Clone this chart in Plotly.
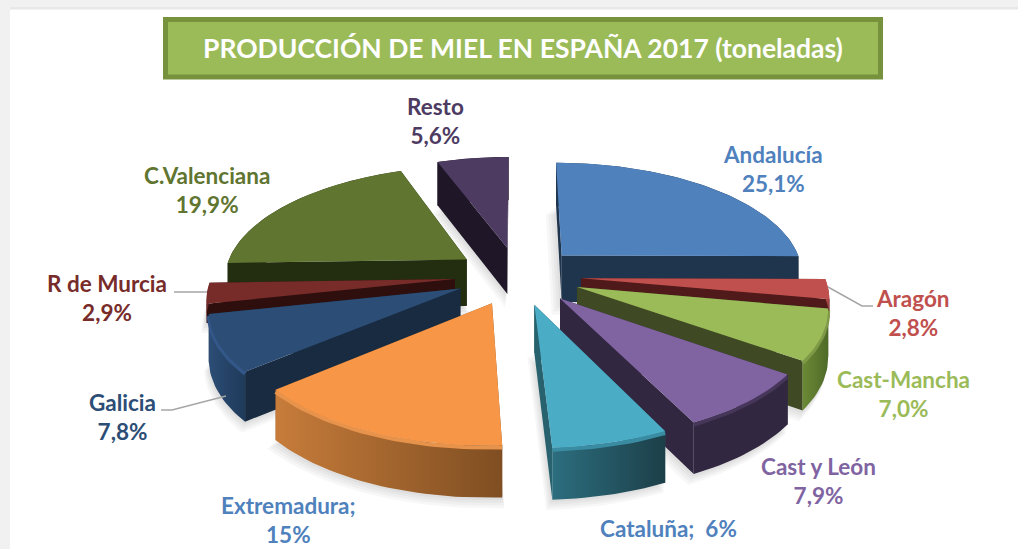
import numpy as np
import plotly.graph_objects as go

# ---- data ----
regions = ["Andalucía", "Aragón", "Cast-Mancha", "Cast y León", "Cataluña",
           "Extremadura", "Galicia", "R de Murcia", "C.Valenciana", "Resto"]
shares = [25.1, 2.8, 7.0, 7.9, 6.4, 14.6, 7.8, 2.9, 19.9, 5.6]
share_labels = ["25,1%", "2,8%", "7,0%", "7,9%", "6%", "15%", "7,8%", "2,9%", "19,9%", "5,6%"]
title_text = "PRODUCCIÓN DE MIEL EN ESPAÑA 2017 (toneladas)"

# ---- styles ----
top_colors = ["#4F81BD", "#C0504D", "#9BBB59", "#8064A2", "#4BACC6",
              "#F79646", "#2C4D75", "#772C2A", "#5F7530", "#4D3B62"]
cut_colors = ["#1F344D", "#4F1A19", "#3F4A24", "#322741", "#28626F",
              "#8A5426", "#182B40", "#2E0F0E", "#232D10", "#1F1728"]
wall_left = ["#1F344D", "#C0504D", "#6B8A36", "#322741", "#2C6E7F",
             "#C77C3A", "#2C4D75", "#772C2A", "#232D10", "#1F1728"]
wall_right = ["#1F344D", "#8F3B39", "#4F6A28", "#322741", "#1C3F48",
              "#7F4E22", "#1F3A5A", "#5A2020", "#232D10", "#1F1728"]
rim_colors = [None, None, "#7E9A47", "#463659", "#3A8CA2", "#E8934C", "#325788", None, None, None]
wall_scale = [1, 0.4, 1, 1, 1, 1, 1, 0.4, 1, 1]
label_colors = ["#4F81BD", "#C0504D", "#9BBB59", "#8064A2", "#4F81BD",
                "#4F81BD", "#2C4D75", "#772C2A", "#5F7530", "#4D3B62"]
label_xy = [(773, 169), (913, 313), (903, 394), (818, 481), (668, 528),
            (288, 520), (122, 417), (107, 298), (207, 190), (435, 121)]
single_line = {4: "Cataluña;\u00a0\u00a0"}
semi_two_line = {5: "Extremadura;"}
paint_order = [9, 8, 0, 7, 1, 6, 2, 5, 3, 4]
leaders = [([828, 862, 873], [287, 306, 306]),
           ([174, 207], [292, 292]),
           ([161, 172, 226], [410, 410, 396])]

# ---- projection of the tilted pie ----
CX, CY, RX, RY, K = 518.0, 275.5, 243.0, 112.0, 0.149
PULL, DEPTH = 0.26, 47.0


def project(u, v):
    w = 1 + K * v
    return CX + RX * u / w, CY - RY * v / w, w


def poly(fig, xs, ys, color=None, gradient=None):
    kw = dict(fillcolor=color) if gradient is None else dict(
        fillgradient=dict(type="horizontal", colorscale=[[0, gradient[0]], [1, gradient[1]]]))
    fig.add_trace(go.Scatter(x=list(xs) + [xs[0]], y=list(ys) + [ys[0]], mode="lines",
                             line=dict(width=0), fill="toself", hoverinfo="skip",
                             showlegend=False, **kw))


fig = go.Figure()
ends = np.cumsum(shares) / np.sum(shares) * 2 * np.pi
starts = np.concatenate([[0], ends[:-1]])

geo = []
for a, b in zip(starts, ends):
    mid = (a + b) / 2
    pu, pv = PULL * np.sin(mid), PULL * np.cos(mid)
    th = np.linspace(a, b, max(8, int((b - a) * 40)))
    ax, ay, aw = project(pu, pv)
    ox, oy, ow = project(pu + np.sin(th), pv + np.cos(th))
    geo.append((ax, ay, aw, ox, oy, ow))

drop = lambda w: DEPTH / np.sqrt(w)

# soft shadows below everything
for i in paint_order:
    ax, ay, aw, ox, oy, ow = geo[i]
    bx = np.concatenate([[ax], ox])
    by = np.concatenate([[ay + drop(aw)], oy + drop(ow) * wall_scale[i]])
    mx, my = bx.mean(), by.mean()
    for d in (12, 9, 6, 3):
        s = 1 + d * 0.004
        poly(fig, mx + (bx - mx) * s - d * 0.3, my + (by - my) * s + d * 0.8, "rgba(0,0,0,0.03)")

# the slices, back to front
for i in paint_order:
    ax, ay, aw, ox, oy, ow = geo[i]
    for ex, ey, ew in ((ox[0], oy[0], ow[0]), (ox[-1], oy[-1], ow[-1])):
        poly(fig, [ax, ex, ex, ax], [ay, ey, ey + drop(ew) * wall_scale[i], ay + drop(aw)], cut_colors[i])
    poly(fig, np.concatenate([ox, ox[::-1]]),
         np.concatenate([oy, (oy + drop(ow) * wall_scale[i])[::-1]]),
         gradient=(wall_left[i], wall_right[i]))
    if rim_colors[i]:
        fig.add_trace(go.Scatter(x=ox, y=oy + 2, mode="lines", hoverinfo="skip", showlegend=False,
                                 line=dict(color=rim_colors[i], width=4)))
    poly(fig, np.concatenate([[ax], ox]), np.concatenate([[ay], oy]), top_colors[i])

for lx, ly in leaders:
    fig.add_trace(go.Scatter(x=lx, y=ly, mode="lines", hoverinfo="skip", showlegend=False,
                             line=dict(color="#A6A6A6", width=1.5)))

FONT = "Lato"
annotations = []
for i, name in enumerate(regions):
    if i in single_line:
        text = single_line[i] + share_labels[i]
    elif i in semi_two_line:
        text = semi_two_line[i] + "<br>" + share_labels[i]
    else:
        text = name + "<br>" + share_labels[i]
    annotations.append(dict(x=label_xy[i][0], y=label_xy[i][1], text=f"<b>{text}</b>", showarrow=False,
                            xanchor="center", yanchor="middle", xref="x", yref="y",
                            font=dict(family=FONT, size=22.5, color=label_colors[i])))
annotations.append(dict(x=522.5, y=48, text=f"<b>{title_text}</b>", showarrow=False, xref="x", yref="y",
                        xanchor="center", yanchor="middle",
                        font=dict(family=FONT, size=26.5, color="white")))

shapes = [
    dict(type="rect", xref="x", yref="y", x0=0, x1=1018, y0=0, y1=8, fillcolor="#F1F1F1", line_width=0, layer="below"),
    dict(type="rect", xref="x", yref="y", x0=0, x1=10, y0=0, y1=549, fillcolor="#F1F1F1", line_width=0, layer="below"),
    dict(type="rect", xref="x", yref="y", x0=10, x1=1018, y0=7, y1=9.5, fillcolor="#E8E8E8", line_width=0, layer="below"),
    dict(type="rect", xref="x", yref="y", x0=165.5, x1=880.5, y0=19.5, y1=77, fillcolor="#9BBB59",
         line=dict(color="#76923C", width=5), layer="below"),
]

fig.update_layout(
    width=1018, height=549, margin=dict(l=0, r=0, t=0, b=0), showlegend=False,
    paper_bgcolor="white", plot_bgcolor="white", annotations=annotations, shapes=shapes,
    xaxis=dict(range=[0, 1018], visible=False, fixedrange=True),
    yaxis=dict(range=[549, 0], visible=False, fixedrange=True),
)
fig.write_html("out.html", config={"displayModeBar": False},
               post_script="document.body.style.margin='0';document.body.style.overflow='hidden';")
